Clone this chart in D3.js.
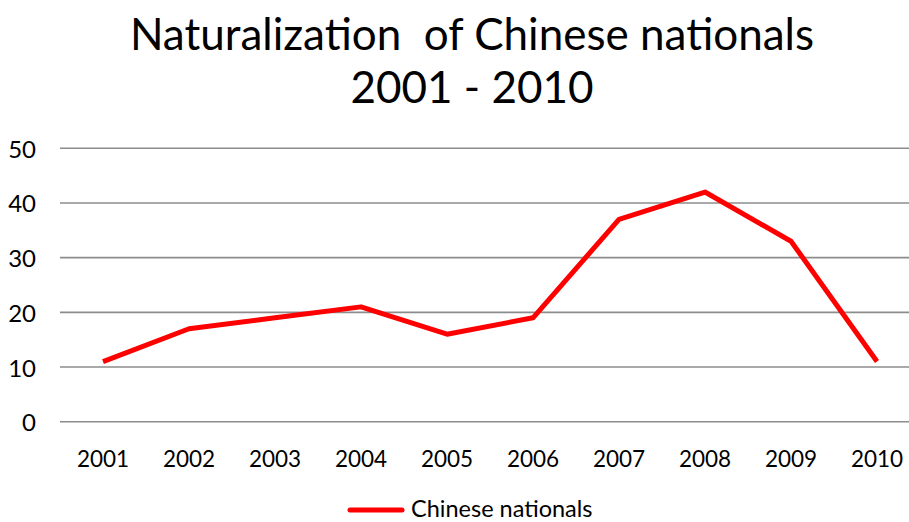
<!DOCTYPE html>
<html><head><meta charset="utf-8">
<script src="https://cdn.jsdelivr.net/npm/d3@7"></script>
<style>body{margin:0;background:#fff}svg{display:block}text{font-family:Lato,"Open Sans",sans-serif;fill:#000}</style>
</head><body><svg id="c" width="909" height="522"></svg>
<script>
const years = ["2001","2002","2003","2004","2005","2006","2007","2008","2009","2010"];
const values = [11,17,19,21,16,19,37,42,33,11];
const yTicks = [0,10,20,30,40,50];
const seriesName = "Chinese nationals";
const titleLines = ["Naturalization  of Chinese nationals","2001 - 2010"];

const svg = d3.select("#c");
const x = d3.scaleBand().domain(years).range([60,920]);
const y = d3.scaleLinear().domain([0,50]).range([421.7,148.3]);

svg.append("g").selectAll("line").data(yTicks).join("line")
  .attr("x1",60).attr("x2",909).attr("y1",d=>y(d)).attr("y2",d=>y(d))
  .attr("stroke","#8c8c8c").attr("stroke-width",1.6);

svg.append("g").selectAll("text").data(yTicks).join("text")
  .attr("x",36).attr("y",d=>y(d)+9.5).attr("text-anchor","end")
  .attr("font-size",24).text(d=>d);

svg.append("g").selectAll("text").data(years).join("text")
  .attr("x",d=>x(d)+x.bandwidth()/2).attr("y",467).attr("text-anchor","middle")
  .attr("font-size",22.5).text(d=>d);

const line = d3.line().x((d,i)=>x(years[i])+x.bandwidth()/2).y(d=>y(d));
svg.append("path").datum(values).attr("d",line).attr("fill","none")
  .attr("stroke","#ff0000").attr("stroke-width",5).attr("stroke-linejoin","round");

svg.selectAll(".title").data(titleLines).join("text").attr("class","title")
  .attr("x",472).attr("y",(d,i)=>50+i*53).attr("text-anchor","middle")
  .attr("font-size",44).style("white-space","pre").text(d=>d);

svg.append("line").attr("x1",350).attr("x2",402).attr("y1",510).attr("y2",510)
  .attr("stroke","#ff0000").attr("stroke-width",5).attr("stroke-linecap","round");
svg.append("text").attr("x",411).attr("y",516.5).attr("font-size",23.5).text(seriesName);
</script></body></html>
